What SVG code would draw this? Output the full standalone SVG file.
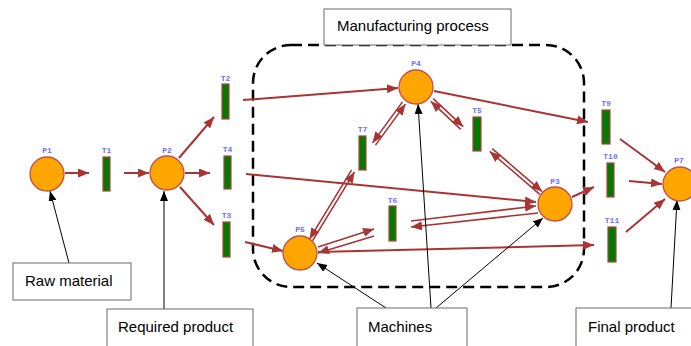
<svg xmlns="http://www.w3.org/2000/svg" width="691" height="346" viewBox="0 0 691 346">
<defs>
<style>
.pl{fill:#FFA500;stroke:#C0504D;stroke-width:1.3}
.tr{fill:#007A00;stroke:#B24040;stroke-width:1.2}
.lb{font-family:"Liberation Mono",monospace;font-size:8px;fill:#7070FF;text-anchor:middle;font-weight:bold}
.a{stroke:#A83434;stroke-width:2;fill:none;marker-end:url(#ra)}
.d{stroke:#A83434;stroke-width:1.6;fill:none;marker-end:url(#ra)}
.k{stroke:#000;stroke-width:1;fill:none;marker-end:url(#ka)}
.bx{fill:#fff;stroke:#6b6b6b;stroke-width:1}
.bt{font-family:"Liberation Sans",Arial,sans-serif;font-size:15px;fill:#000}
</style>
<marker id="ra" markerUnits="userSpaceOnUse" markerWidth="12" markerHeight="10" refX="11" refY="4.5" orient="auto"><path d="M0,0 L11,4.5 L0,9 z" fill="#A83434"/></marker>
<marker id="ka" markerUnits="userSpaceOnUse" markerWidth="12" markerHeight="10" refX="10" refY="4" orient="auto"><path d="M0,0 L10,4 L0,8 z" fill="#000"/></marker>
</defs>
<rect x="253" y="45" width="331" height="242" rx="38" ry="38" fill="none" stroke="#000" stroke-width="2.5" stroke-dasharray="11 6"/>
<g id="box-manufacturing"><rect class="bx" x="324" y="9" width="187" height="36"/><text class="bt" x="337" y="31">Manufacturing process</text></g>
<g id="connectors">
<line class="a" x1="65" y1="173" x2="89" y2="173"/>
<line class="a" x1="124" y1="173" x2="149" y2="173"/>
<line class="a" x1="179" y1="158" x2="214" y2="117"/>
<line class="a" x1="185" y1="173" x2="210" y2="173"/>
<line class="a" x1="180" y1="187" x2="214" y2="225"/>
<line class="a" x1="243" y1="100" x2="398" y2="88"/>
<line class="a" x1="246" y1="174" x2="536" y2="202"/>
<line class="a" x1="245" y1="242" x2="283" y2="251"/>
<line class="a" x1="434" y1="91" x2="588" y2="122"/>
<line class="a" x1="572" y1="197" x2="594" y2="187"/>
<line class="a" x1="318" y1="252" x2="594" y2="245"/>
<line class="a" x1="620" y1="139" x2="665" y2="172"/>
<line class="a" x1="629" y1="181" x2="662" y2="184"/>
<line class="a" x1="626" y1="232" x2="665" y2="199"/>
<line class="d" x1="375.5" y1="145.1" x2="405.5" y2="104.1"/>
<line class="d" x1="402.5" y1="101.9" x2="372.5" y2="142.9"/>
<line class="d" x1="312.5" y1="240.9" x2="354.5" y2="171.9"/>
<line class="d" x1="351.5" y1="170.1" x2="309.5" y2="239.1"/>
<line class="d" x1="318" y1="247" x2="374" y2="229"/>
<line class="d" x1="374" y1="236" x2="318" y2="253"/>
<line class="d" x1="411" y1="221" x2="536" y2="206"/>
<line class="d" x1="538" y1="213" x2="411" y2="227"/>
<line class="d" x1="433.2" y1="98.7" x2="463.2" y2="126.7"/>
<line class="d" x1="460.8" y1="129.3" x2="430.8" y2="101.3"/>
<line class="d" x1="492.2" y1="148.6" x2="542.2" y2="191.6"/>
<line class="d" x1="539.8" y1="194.4" x2="489.8" y2="151.4"/>
<line class="k" x1="69" y1="263" x2="50" y2="191"/>
<line class="k" x1="164" y1="309" x2="164" y2="191"/>
<line class="k" x1="386" y1="308" x2="317" y2="263"/>
<line class="k" x1="431" y1="308" x2="418" y2="104"/>
<line class="k" x1="436" y1="308" x2="543" y2="218"/>
<line class="k" x1="671" y1="308" x2="677" y2="200"/>
</g>
<g id="P1"><circle class="pl" cx="47" cy="174" r="17"/><text class="lb" x="47" y="153">P1</text></g>
<g id="P2"><circle class="pl" cx="167" cy="173" r="17"/><text class="lb" x="167" y="153">P2</text></g>
<g id="P4"><circle class="pl" cx="416" cy="87" r="17"/><text class="lb" x="416" y="66">P4</text></g>
<g id="P5"><circle class="pl" cx="300" cy="253" r="17"/><text class="lb" x="300" y="232">P5</text></g>
<g id="P3"><circle class="pl" cx="555" cy="204" r="17"/><text class="lb" x="555" y="184">P3</text></g>
<g id="P7"><circle class="pl" cx="680" cy="184" r="17"/><text class="lb" x="679" y="163">P7</text></g>
<g id="T1"><rect class="tr" x="103" y="157" width="7" height="34"/><text class="lb" x="106.5" y="153">T1</text></g>
<g id="T2"><rect class="tr" x="222" y="84" width="7" height="35"/><text class="lb" x="225.5" y="81">T2</text></g>
<g id="T4"><rect class="tr" x="224" y="156" width="7" height="33"/><text class="lb" x="227.5" y="152">T4</text></g>
<g id="T3"><rect class="tr" x="223" y="222" width="7" height="35"/><text class="lb" x="226.5" y="218">T3</text></g>
<g id="T7"><rect class="tr" x="359" y="136" width="7" height="34"/><text class="lb" x="362.5" y="132">T7</text></g>
<g id="T6"><rect class="tr" x="389" y="206" width="7" height="35"/><text class="lb" x="392.5" y="203">T6</text></g>
<g id="T5"><rect class="tr" x="473" y="117" width="8" height="34"/><text class="lb" x="477" y="113">T5</text></g>
<g id="T9"><rect class="tr" x="602" y="110" width="8" height="34"/><text class="lb" x="606" y="106">T9</text></g>
<g id="T10"><rect class="tr" x="607" y="163" width="7" height="34"/><text class="lb" x="610.5" y="159">T10</text></g>
<g id="T11"><rect class="tr" x="608" y="227" width="8" height="35"/><text class="lb" x="612" y="223">T11</text></g>
<g id="box-raw"><rect class="bx" x="13" y="263" width="118" height="37"/><text class="bt" x="25" y="286">Raw material</text></g>
<g id="box-required"><rect class="bx" x="107" y="309" width="146" height="50"/><text class="bt" x="118" y="332">Required product</text></g>
<g id="box-machines"><rect class="bx" x="357" y="308" width="110" height="50"/><text class="bt" x="368" y="332">Machines</text></g>
<g id="box-final"><rect class="bx" x="576" y="308" width="130" height="50"/><text class="bt" x="588" y="332">Final product</text></g>
</svg>
